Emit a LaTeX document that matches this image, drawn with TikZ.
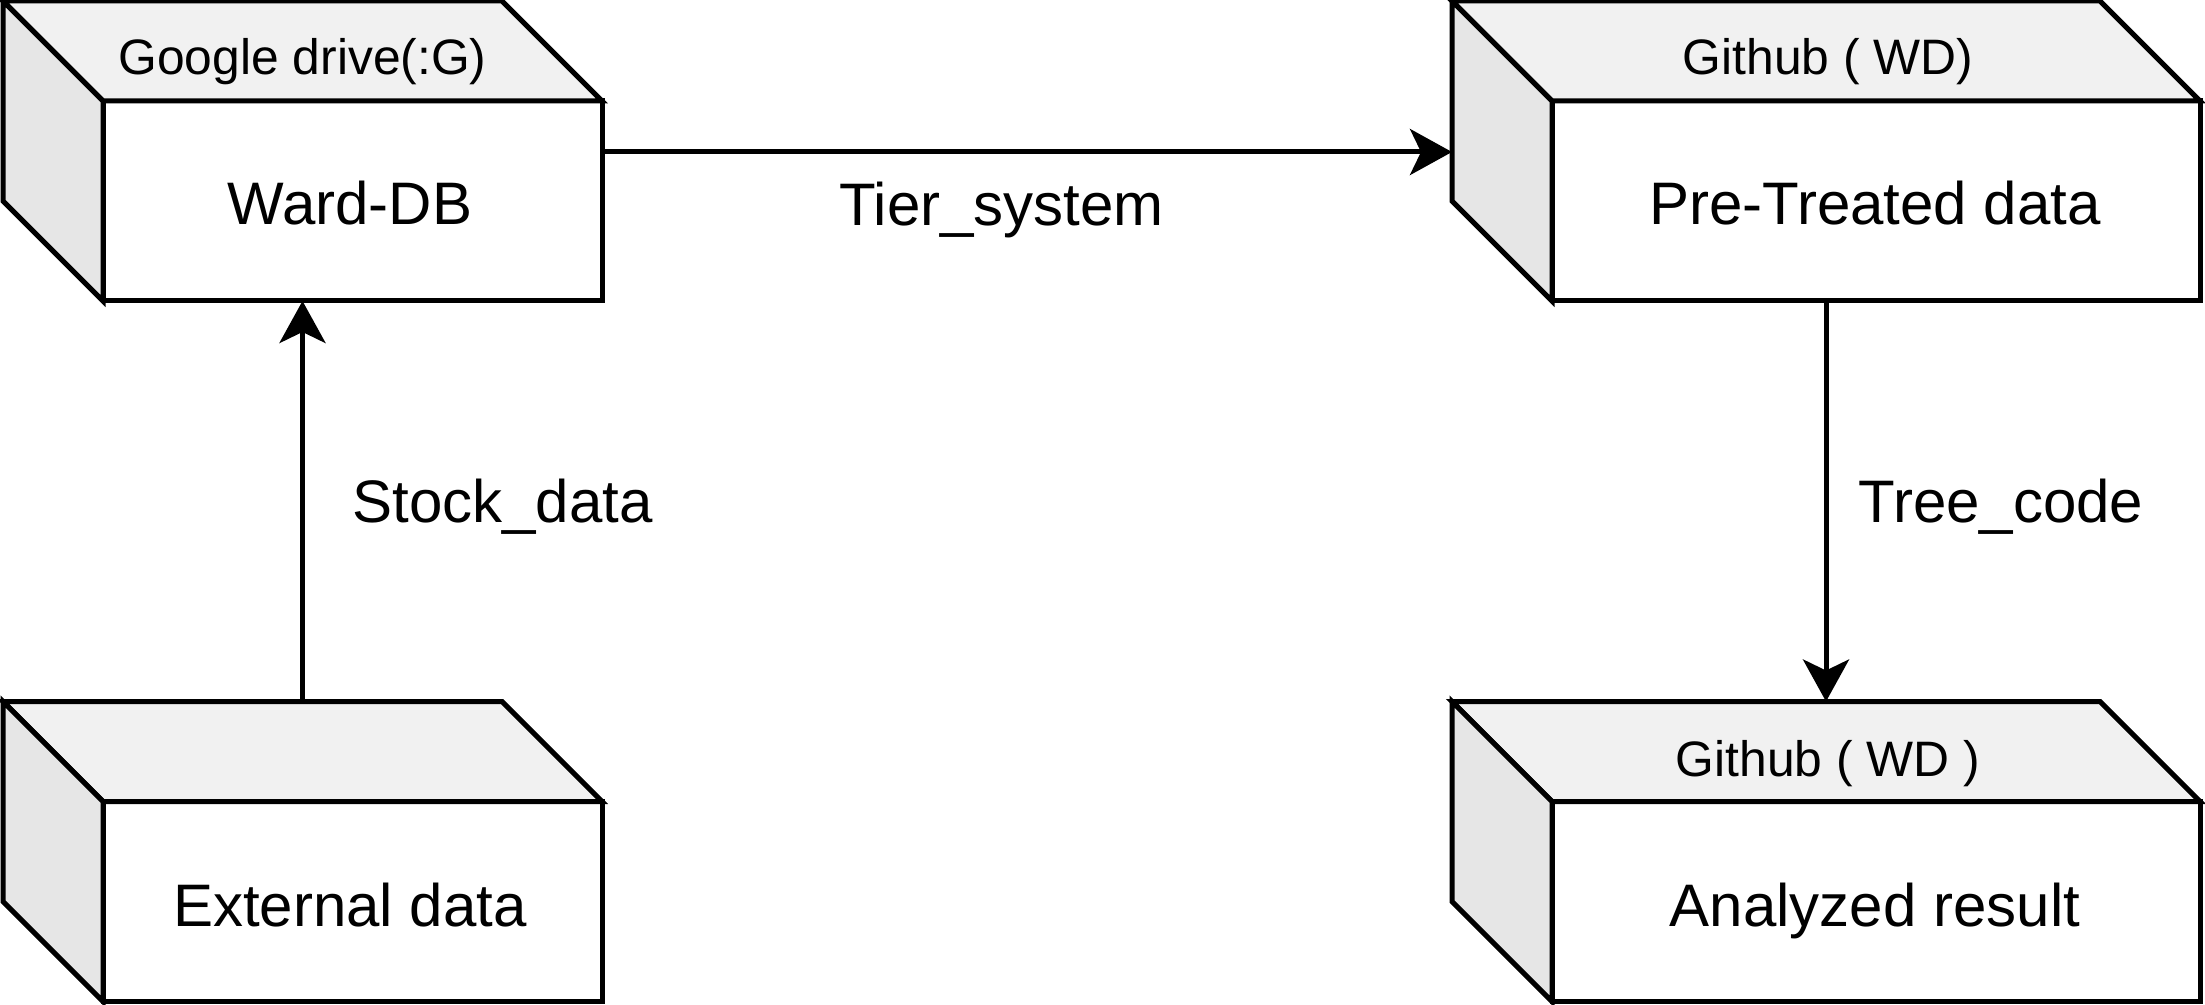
\documentclass[tikz,border=0pt]{standalone}
\usepackage{fontspec}
\setmainfont{Liberation Sans}
\usetikzlibrary{arrows.meta,calc}
\definecolor{topgray}{HTML}{F1F1F1}
\definecolor{sidegray}{HTML}{E6E6E6}
\newcommand\cubefaces[1]{%
  \filldraw[topface] (#1.north west) -- ++(-100,-100) -- ($(#1.north east)+(-100,-100)$) -- (#1.north east) -- cycle;
  \filldraw[sideface] (#1.north west) -- ++(-100,-100) -- ($(#1.south west)+(-100,-100)$) -- (#1.south west) -- cycle;
}
\begin{document}
\begin{tikzpicture}[x=0.5pt,y=-0.5pt,line width=2.5pt,
  frontface/.style={draw, fill=white, inner sep=0pt, outer sep=0pt, minimum height=100pt, line join=miter},
  narrowbox/.style={frontface, minimum width=249.5pt},
  widebox/.style={frontface, minimum width=324pt},
  topface/.style={draw=black, fill=topgray, line join=miter},
  sideface/.style={draw=black, fill=sidegray, line join=miter},
  maintext/.style={font=\fontsize{30pt}{36pt}\selectfont, anchor=base, inner sep=0pt},
  hdrtext/.style={font=\fontsize{24.9pt}{30pt}\selectfont, anchor=base, inner sep=0pt},
  conn/.style={draw, -{Stealth[length=21pt,width=23pt,inset=5.5pt]}}
]
\useasboundingbox (0,0) rectangle (2205,1005);
% front faces
\node[narrowbox] (A) at (352.5,201) {};
\node[widebox]   (B) at (1876,201) {};
\node[narrowbox] (C) at (352.5,901.5) {};
\node[widebox]   (D) at (1876,901.5) {};
\cubefaces{A}
\cubefaces{B}
\cubefaces{C}
\cubefaces{D}
% texts
\node[maintext] (tA) at (350,225) {Ward-DB};
\node[maintext] (tB) at (1875,225) {Pre-Treated data};
\node[maintext] (tC) at (350,926) {External data};
\node[maintext] (tD) at (1875,926) {Analyzed result};
\node[hdrtext] (hA) at (302.5,75) {Google drive(:G)};
\node[hdrtext] (hB) at (1828,75) {Github ( WD)};
\node[hdrtext] (hD) at (1828,776) {Github ( WD )};
% connectors
\draw[conn] ($(A.east)+(0,-49)$) -- ($(B.west)+(-100,-49)$);
\draw[conn] ($(C.north)+(-50,-100)$) -- ($(A.south)+(-50,0)$);
\draw[conn] ($(B.south)+(-50,0)$) -- ($(D.north)+(-50,-100)$);
% labels
\node[maintext] (lT) at (1001.5,226) {Tier\_system};
\node[maintext] (lS) at (502.5,522) {Stock\_data};
\node[maintext] (lR) at (2001,522) {Tree\_code};
\end{tikzpicture}
\end{document}
